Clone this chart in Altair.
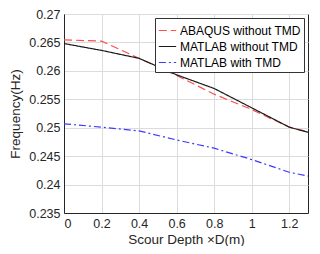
import altair as alt
import pandas as pd

depth = [0.0, 0.2, 0.4, 0.6, 0.8, 1.0, 1.2, 1.3]
abaqus = [0.26545, 0.26523, 0.2622, 0.2592, 0.2559, 0.2532, 0.2501, 0.2493]
matlab_no = [0.2648, 0.2636, 0.2622, 0.2593, 0.2569, 0.2535, 0.2501, 0.2492]
matlab_tmd = [0.25068, 0.2501, 0.24944, 0.24784, 0.2464, 0.2444, 0.24216, 0.2415]
series = ["ABAQUS without TMD", "MATLAB without TMD", "MATLAB with TMD"]

rows = []
for name, vals in zip(series, [abaqus, matlab_no, matlab_tmd]):
    for d, v in zip(depth, vals):
        rows.append({"depth": d, "freq": v, "series": name})
df = pd.DataFrame(rows)

font = "Liberation Sans"
chart = alt.Chart(df).mark_line(strokeWidth=1.2, clip=True).encode(
    x=alt.X("depth:Q", title="Scour Depth \u00d7D(m)",
            scale=alt.Scale(domain=[0, 1.3], nice=False),
            axis=alt.Axis(values=[0, 0.2, 0.4, 0.6, 0.8, 1.0, 1.2], format="~g")),
    y=alt.Y("freq:Q", title="Frequency(Hz)",
            scale=alt.Scale(domain=[0.235, 0.27], nice=False, zero=False),
            axis=alt.Axis(values=[0.235, 0.24, 0.245, 0.25, 0.255, 0.26, 0.265, 0.27],
                          format=".3~f")),
    color=alt.Color("series:N", sort=series,
                    scale=alt.Scale(domain=series, range=["#ff4d4d", "#1a1a1a", "#3a3aff"]),
                    legend=alt.Legend(title=None, orient="top-right", symbolType="stroke",
                                      symbolSize=300, symbolStrokeWidth=1.2,
                                      labelFont=font, labelFontSize=12, labelColor="#000",
                                      fillColor="white", strokeColor="#333",
                                      padding=3, offset=4, rowPadding=0, labelOffset=3)),
    strokeDash=alt.StrokeDash("series:N", sort=series,
                              scale=alt.Scale(domain=series, range=[[8, 4], [1, 0], [7, 3, 2, 3]]),
                              legend=None),
).properties(
    width=304, height=238,
    autosize=alt.AutoSizeParams(type="fit", contains="padding"),
    padding={"left": 0, "top": 0, "right": 4, "bottom": 0},
).configure_axis(
    labelFont=font, titleFont=font, labelFontSize=12.5, titleFontSize=13.5,
    labelColor="#262626", titleColor="#262626", titleFontWeight="normal",
    domainColor="#262626", ticks=False,
    gridColor="#dcdcdc", labelPadding=4,
).configure_axisY(titlePadding=6).configure_axisX(titlePadding=3).configure_view(
    stroke="#262626", strokeWidth=1
)

chart.save("out.html", embed_options={"renderer": "svg", "actions": False})
